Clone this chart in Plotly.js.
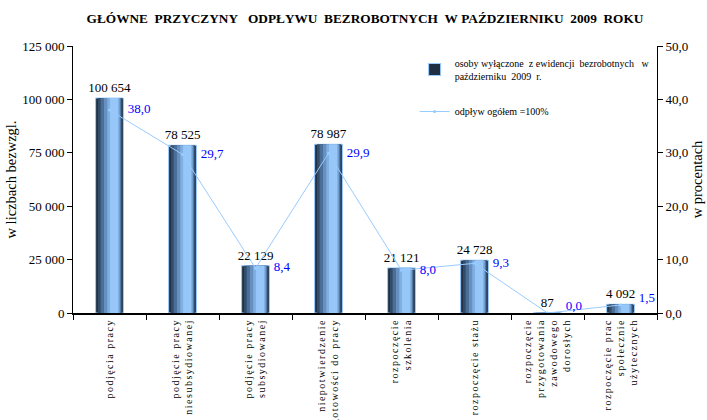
<!DOCTYPE html>
<html>
<head>
<meta charset="utf-8">
<script src="https://cdn.plot.ly/plotly-3.0.1.min.js"></script>
<style>
html,body{margin:0;padding:0;background:#fff;}
#chart{width:707px;height:420px;}
#chart .xtick text{letter-spacing:1.5px;}
</style>
</head>
<body>
<div id="chart"></div>
<script>
// ---- data ----
const categories = [
  "podjęcia pracy",
  "podjęcie pracy<br>niesubsydiowanej",
  "podjęcie pracy<br>subsydiowanej",
  "niepotwierdzenie<br>gotowości do pracy",
  "rozpoczęcie<br>szkolenia",
  "rozpoczęcie stażu",
  "rozpoczęcie<br>przygotowania<br>zawodowego<br>dorosłych",
  "rozpoczęcie prac<br>społecznie<br>użytecznych"
];
const countValues = [100654, 78525, 22129, 78987, 21121, 24728, 87, 4092];
const percentValues = [38.0, 29.7, 8.4, 29.9, 8.0, 9.3, 0.0, 1.5];
const leftTicks = [0, 25000, 50000, 75000, 100000, 125000];
const rightTicks = [0, 10, 20, 30, 40, 50];
const barName = "osoby wyłączone  z ewidencji  bezrobotnych   w<br>październiku  2009  r.";
const lineName = "odpływ ogółem =100%";
const titleText = "GŁÓWNE  PRZYCZYNY   ODPŁYWU  BEZROBOTNYCH  W PAŹDZIERNIKU  2009  ROKU";

// ---- style ----
const FONT = "Liberation Serif, Times New Roman, serif";
const NB = "\u00A0";
const BW = 0.38;
const LABEL_SHIFT = 0.25; // label offset to the right, in category units
// gradient layers: [leftFrac, rightFrac, color]
const layers = [
  [0.00, 1.00, "#1f2e40"],
  [0.08, 0.95, "#324c69"],
  [0.18, 0.92, "#4a6e96"],
  [0.30, 0.89, "#6590c0"],
  [0.42, 0.86, "#80afe2"],
  [0.52, 0.81, "#96c7f8"]
];

const traces = [];
layers.forEach((ly, i) => {
  const t = {
    type: "bar",
    x: categories,
    y: countValues,
    offset: -BW / 2 + ly[0] * BW,
    width: (ly[1] - ly[0]) * BW,
    marker: {color: ly[2], line: {width: i === 0 ? 1 : 0, color: "#99ccff"}},
    hoverinfo: "skip",
    showlegend: i === 0,
    name: barName,
    legendgroup: "bars",
    xaxis: "x", yaxis: "y"
  };
  if (i === 0) {
    t.texttemplate = "%{y:,}";
    t.textposition = "outside";
    t.constraintext = "none";
    t.cliponaxis = false;
    t.outsidetextfont = {family: FONT, size: 13, color: "#000"};
  }
  traces.push(t);
});

traces.push({
  type: "scatter",
  mode: "lines+markers",
  x: categories,
  y: percentValues,
  xaxis: "x", yaxis: "y2",
  name: lineName,
  legendgroup: "line",
  line: {color: "#99ccff", width: 1},
  marker: {color: "#99ccff", size: 3},
  hoverinfo: "skip"
});

// percent labels (drawn on a shifted overlay category axis)
traces.push({
  type: "scatter",
  mode: "text",
  x: categories,
  y: percentValues,
  xaxis: "x2", yaxis: "y2",
  showlegend: false,
  texttemplate: "%{y:.1f}",
  textposition: ["middle right","middle right","middle right","middle right","middle right","middle right","top right","top right"],
  textfont: {family: FONT, size: 13, color: "#0000ff"},
  cliponaxis: false,
  hoverinfo: "skip"
});

const layout = {
  width: 707, height: 420,
  margin: {l: 73, r: 50, t: 46, b: 107},
  paper_bgcolor: "#fff", plot_bgcolor: "#fff",
  separators: ", ",
  barmode: "overlay",
  font: {family: FONT, size: 13, color: "#000"},
  title: {
    text: "<b>" + titleText.replace(/ /g, NB) + "</b>",
    font: {family: FONT, size: 13.3, color: "#000"},
    x: 0.5, xref: "paper", y: 0.957, yref: "container", yanchor: "middle"
  },
  xaxis: {
    type: "category",
    tickangle: -90,
    tickson: "boundaries",
    ticks: "outside",
    ticklen: 5,
    tickcolor: "#000",
    showline: true, linecolor: "#000", linewidth: 2,
    showgrid: false,
    tickfont: {family: FONT, size: 10, color: "#000"},
    automargin: false,
    range: [-0.5, 7.5]
  },
  xaxis2: {
    type: "category",
    overlaying: "x",
    visible: false,
    range: [-0.5 - LABEL_SHIFT, 7.5 - LABEL_SHIFT]
  },
  yaxis: {
    range: [0, 125000],
    tickvals: leftTicks,
    tickformat: ",",
    ticks: "outside", ticklen: 5, tickcolor: "#000",
    showline: true, linecolor: "#000", linewidth: 1,
    showgrid: false, zeroline: false,
    tickfont: {family: FONT, size: 13, color: "#000"},
    title: {text: "w liczbach bezwzgl.", font: {family: FONT, size: 14.5, color: "#000"}, standoff: 2},
    automargin: false
  },
  yaxis2: {
    overlaying: "y", side: "right",
    range: [0, 50],
    tickvals: rightTicks,
    tickformat: ".1f",
    ticks: "outside", ticklen: 5, tickcolor: "#000",
    showline: true, linecolor: "#000", linewidth: 1,
    showgrid: false, zeroline: false,
    tickfont: {family: FONT, size: 13, color: "#000"},
    title: {text: "w procentach", font: {family: FONT, size: 14.5, color: "#000"}, standoff: 4},
    automargin: false
  },
  legend: {
    x: 0.585, y: 0.985, xanchor: "left", yanchor: "top",
    bgcolor: "rgba(0,0,0,0)",
    font: {family: FONT, size: 10, color: "#000"},
    traceorder: "grouped",
    tracegroupgap: 18,
    itemwidth: 30
  },
  showlegend: true
};

Plotly.newPlot("chart", traces, layout, {displayModeBar: false, staticPlot: true});
</script>
</body>
</html>
